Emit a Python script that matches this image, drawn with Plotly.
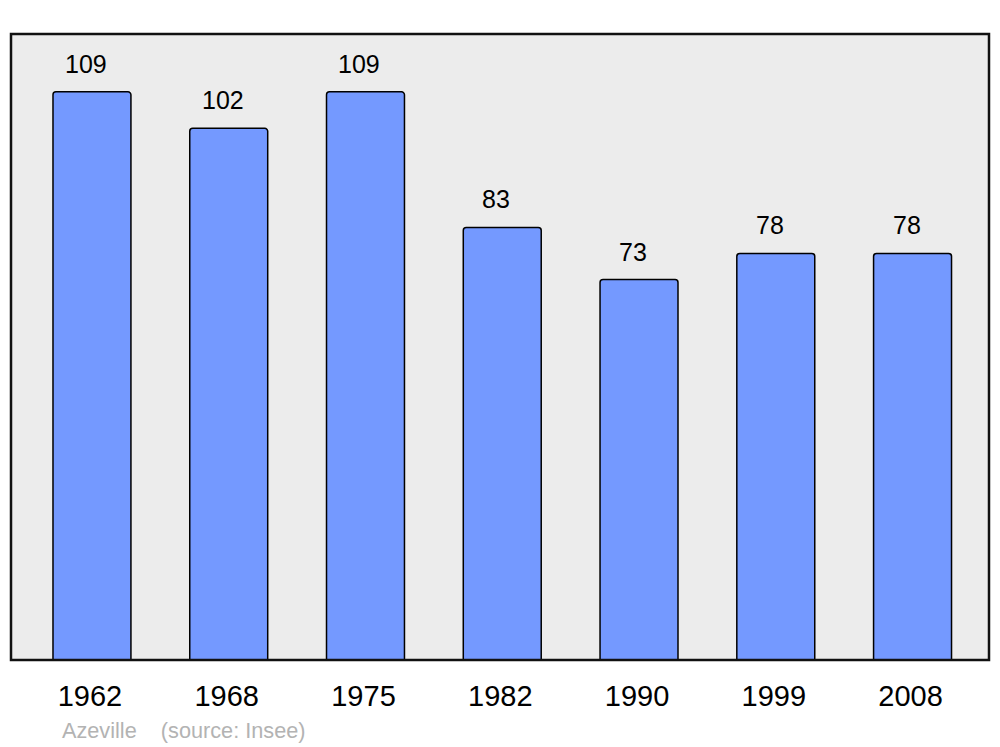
import plotly.graph_objects as go

years = ["1962", "1968", "1975", "1982", "1990", "1999", "2008"]
population = [109, 102, 109, 83, 73, 78, 78]
commune = "Azeville"
source = "(source: Insee)"

W, H = 1000, 747
ml, mr, mt, mb = 11, 11, 34, 87
FONT = "Liberation Sans, Arial, sans-serif"

fig = go.Figure()
fig.add_trace(go.Bar(
    x=years, y=population,
    width=0.57,
    marker=dict(color="#7499ff", line=dict(color="#000000", width=1.5)),
    hoverinfo="x+y",
))

for i, v in enumerate(population):
    fig.add_annotation(x=i, y=v, text=str(v), showarrow=False,
                       yshift=28, xshift=-6, yanchor="middle",
                       font=dict(size=25, color="#000000", family=FONT))

fig.add_annotation(xref="paper", yref="paper",
                   x=(60 - ml) / (W - ml - mr), y=-(730 - (H - mb)) / (H - mt - mb),
                   xanchor="left", yanchor="middle", showarrow=False,
                   text=commune + "\u00a0\u00a0\u00a0\u00a0" + source,
                   font=dict(size=21.7, color="#b3b3b3", family=FONT))

fig.add_shape(type="rect", xref="paper", yref="paper", x0=0, x1=1, y0=0, y1=1,
              line=dict(color="#111111", width=2.5), layer="above")

fig.update_layout(
    width=W, height=H, autosize=False,
    margin=dict(l=ml, r=mr, t=mt, b=mb, pad=0),
    paper_bgcolor="#ffffff", plot_bgcolor="#ececec",
    showlegend=False, barcornerradius=3,
    font=dict(family=FONT, color="#000000"),
    xaxis=dict(type="category", range=[-0.592, 6.559], showgrid=False, zeroline=False,
               ticks="outside", ticklen=10, tickcolor="rgba(0,0,0,0)",
               ticklabelshift=-2,
               tickfont=dict(size=29, color="#000000"), showline=False, fixedrange=True),
    yaxis=dict(range=[0, 120.1], showgrid=False, zeroline=False, showticklabels=False,
               showline=False, fixedrange=True),
)

fig.write_html("out.html", config={"displayModeBar": False},
               post_script="document.body.style.margin='0';")
